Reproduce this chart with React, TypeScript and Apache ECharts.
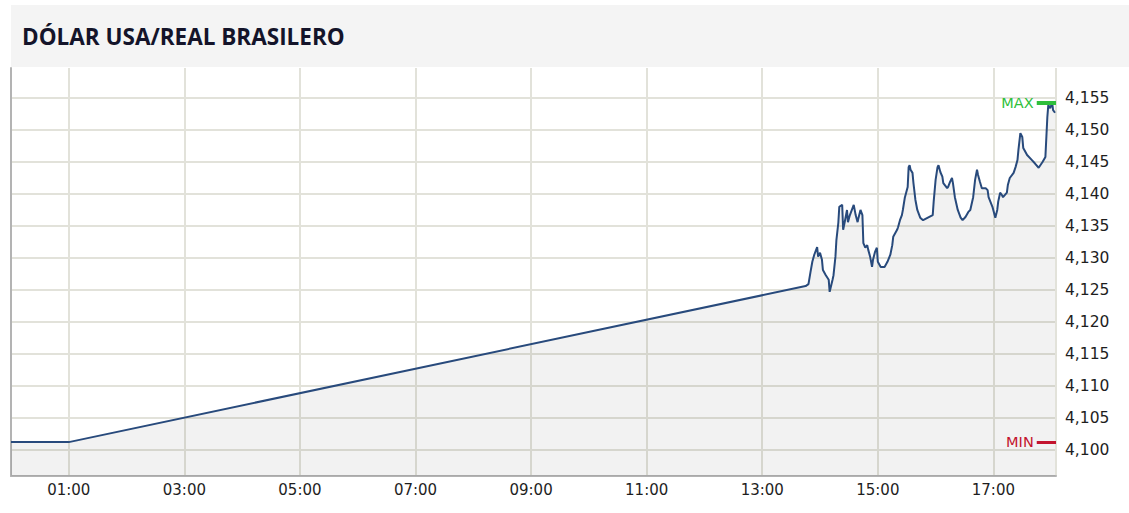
import React, { useEffect, useRef } from "react";
import * as echarts from "echarts";

const TITLE = "DÓLAR USA/REAL BRASILERO";

const TIMES = [
  "00:00", "01:00", "13:45", "13:48", "13:50", "13:52", "13:54", "13:57", "13:58", "14:00",
  "14:02", "14:03", "14:06", "14:09", "14:10", "14:13", "14:14", "14:16", "14:17", "14:19",
  "14:20", "14:23", "14:24", "14:26", "14:28", "14:29", "14:31", "14:35", "14:37", "14:39",
  "14:40", "14:42", "14:44", "14:45", "14:47", "14:49", "14:50", "14:52", "14:54", "14:55",
  "14:57", "14:59", "15:00", "15:03", "15:07", "15:10", "15:13", "15:15", "15:16", "15:20",
  "15:21", "15:23", "15:25", "15:26", "15:28", "15:31", "15:32", "15:33", "15:34", "15:36",
  "15:37", "15:39", "15:41", "15:44", "15:47", "15:52", "15:57", "15:58", "16:00", "16:02",
  "16:03", "16:05", "16:07", "16:08", "16:12", "16:13", "16:15", "16:17", "16:18", "16:20",
  "16:23", "16:26", "16:28", "16:31", "16:34", "16:36", "16:39", "16:41", "16:43", "16:44",
  "16:46", "16:48", "16:52", "16:54", "16:55", "16:59", "17:02", "17:04", "17:05", "17:07",
  "17:09", "17:10", "17:14", "17:15", "17:17", "17:21", "17:23", "17:25", "17:26", "17:28",
  "17:30", "17:31", "17:35", "17:40", "17:43", "17:47", "17:51", "17:54", "17:56", "17:57",
  "17:59", "18:01", "18:02", "18:04",
];

const VALUES = [
  4.1012, 4.1012, 4.1256, 4.1259, 4.1277, 4.1294, 4.1305, 4.1317, 4.1302, 4.1308,
  4.1297, 4.1281, 4.1273, 4.1266, 4.1247, 4.1266, 4.1273, 4.1302, 4.1328, 4.1355,
  4.138, 4.1383, 4.1344, 4.1359, 4.1375, 4.1356, 4.1367, 4.1383, 4.1367, 4.1356,
  4.1363, 4.1375, 4.1367, 4.1323, 4.1316, 4.132, 4.1313, 4.1302, 4.1286, 4.1297,
  4.1309, 4.1316, 4.1294, 4.1286, 4.1286, 4.1294, 4.1305, 4.132, 4.1333, 4.1344,
  4.1348, 4.1359, 4.1367, 4.1375, 4.1394, 4.1411, 4.1442, 4.1445, 4.1438, 4.1433,
  4.1417, 4.1391, 4.1375, 4.1363, 4.1359, 4.1363, 4.1367, 4.1388, 4.1422, 4.1442,
  4.1445, 4.1434, 4.1427, 4.1417, 4.1409, 4.1411, 4.1419, 4.1425, 4.1417, 4.1395,
  4.1375, 4.1363, 4.1359, 4.1364, 4.1372, 4.1375, 4.1395, 4.1422, 4.1438, 4.143,
  4.1419, 4.1409, 4.1409, 4.1406, 4.1395, 4.138, 4.1363, 4.1375, 4.1388, 4.1402,
  4.1398, 4.1395, 4.1402, 4.1414, 4.1425, 4.1433, 4.1442, 4.1453, 4.1469, 4.1495,
  4.1489, 4.1472, 4.1461, 4.1453, 4.1448, 4.1441, 4.145, 4.1458, 4.152, 4.1539,
  4.1534, 4.1543, 4.1531, 4.1527,
];

const X_TICK_LABELS = ["01:00", "03:00", "05:00", "07:00", "09:00", "11:00", "13:00", "15:00", "17:00"];
const X_RANGE = ["00:00", "18:05"];
const Y_RANGE = [4.0959, 4.1597];
const Y_STEP = 0.005;
const MARK_SPAN_MIN = 20;

const toMin = (t: string) => {
  const [h, m] = t.split(":").map(Number);
  return h * 60 + m;
};
const fmtMin = (v: number) => {
  const h = Math.floor(v / 60);
  const m = Math.round(v - h * 60);
  return String(h).padStart(2, "0") + ":" + String(m).padStart(2, "0");
};

export default function App() {
  const ref = useRef<HTMLDivElement>(null);

  useEffect(() => {
    if (!ref.current) return;
    const chart = echarts.init(ref.current, null, { renderer: "svg" });
    const xMin = toMin(X_RANGE[0]);
    const xMax = toMin(X_RANGE[1]);
    const data = TIMES.map((t, i) => [toMin(t), VALUES[i]]);
    const maxV = Math.max(...VALUES);
    const minV = Math.min(...VALUES);
    const labelFont = "DejaVu Sans";

    chart.setOption({
      animation: false,
      backgroundColor: "#ffffff",
      title: {
        text: TITLE,
        left: 22,
        top: 25,
        padding: 0,
        textStyle: {
          fontFamily: "Open Sans",
          fontWeight: "bold",
          fontSize: 22.5,
          color: "#14142a",
        },
      },
      graphic: [
        {
          type: "rect",
          left: 11,
          top: 5,
          z: -10,
          shape: { width: 1118, height: 62 },
          style: { fill: "#f4f4f4" },
          silent: true,
        },
      ],
      grid: {
        left: 11,
        top: 68,
        right: 73,
        bottom: 37,
        containLabel: false,
        outerBoundsMode: "none",
      },
      xAxis: {
        type: "value",
        min: xMin,
        max: xMax,
        interval: 60,
        axisLine: { show: true, lineStyle: { color: "#b3b3b3", width: 2 } },
        axisTick: { show: false },
        axisLabel: {
          show: true,
          margin: 6,
          fontFamily: labelFont,
          fontSize: 15,
          color: "#1e1e1e",
          formatter: (v: number) => {
            const s = fmtMin(v);
            return X_TICK_LABELS.includes(s) && Math.abs(v - Math.round(v)) < 1e-6 ? s : "";
          },
          showMinLabel: true,
          showMaxLabel: true,
        },
        splitLine: {
          show: true,
          lineStyle: { color: ["rgba(0,0,0,0)", "#e2e2da"], width: 2 },
        },
      },
      yAxis: {
        type: "value",
        position: "right",
        min: Y_RANGE[0],
        max: Y_RANGE[1],
        minInterval: Y_STEP,
        maxInterval: Y_STEP,
        scale: true,
        axisLine: { show: true, lineStyle: { color: "#b3b3b3", width: 2 } },
        axisTick: { show: false },
        axisLabel: {
          margin: 9,
          fontFamily: labelFont,
          fontSize: 15.5,
          color: "#1e1e1e",
          formatter: (v: number) => {
            const k = v / Y_STEP;
            if (Math.abs(k - Math.round(k)) > 1e-4) return "";
            return v.toFixed(3).replace(".", ",");
          },
        },
        splitLine: {
          show: true,
          showMinLine: false,
          showMaxLine: false,
          lineStyle: { color: "#e2e2da", width: 2 },
        },
      },
      series: [
        {
          type: "line",
          data,
          symbol: "none",
          showSymbol: false,
          lineStyle: { color: "#284a7c", width: 2 },
          areaStyle: { color: "rgba(0,0,0,0.072)", origin: "start" },
          markLine: {
            silent: true,
            symbol: "none",
            animation: false,
            data: [
              [
                {
                  coord: [xMax - MARK_SPAN_MIN, maxV],
                  lineStyle: { color: "#2fbf3c", width: 4, type: "solid" },
                  label: {
                    show: true,
                    position: "start",
                    formatter: "MAX",
                    color: "#2fbf3c",
                    fontFamily: labelFont,
                    fontSize: 14.5,
                    distance: 3,
                  },
                },
                { coord: [xMax, maxV] },
              ],
              [
                {
                  coord: [xMax - MARK_SPAN_MIN, minV],
                  lineStyle: { color: "#c3142e", width: 3, type: "solid" },
                  label: {
                    show: true,
                    position: "start",
                    formatter: "MIN",
                    color: "#c3142e",
                    fontFamily: labelFont,
                    fontSize: 14.5,
                    distance: 3,
                  },
                },
                { coord: [xMax, minV] },
              ],
            ],
          },
        },
      ],
    });

    return () => chart.dispose();
  }, []);

  return (
    <div
      ref={ref}
      style={{ position: "fixed", left: 0, top: 0, width: 1129, height: 513 }}
    />
  );
}
